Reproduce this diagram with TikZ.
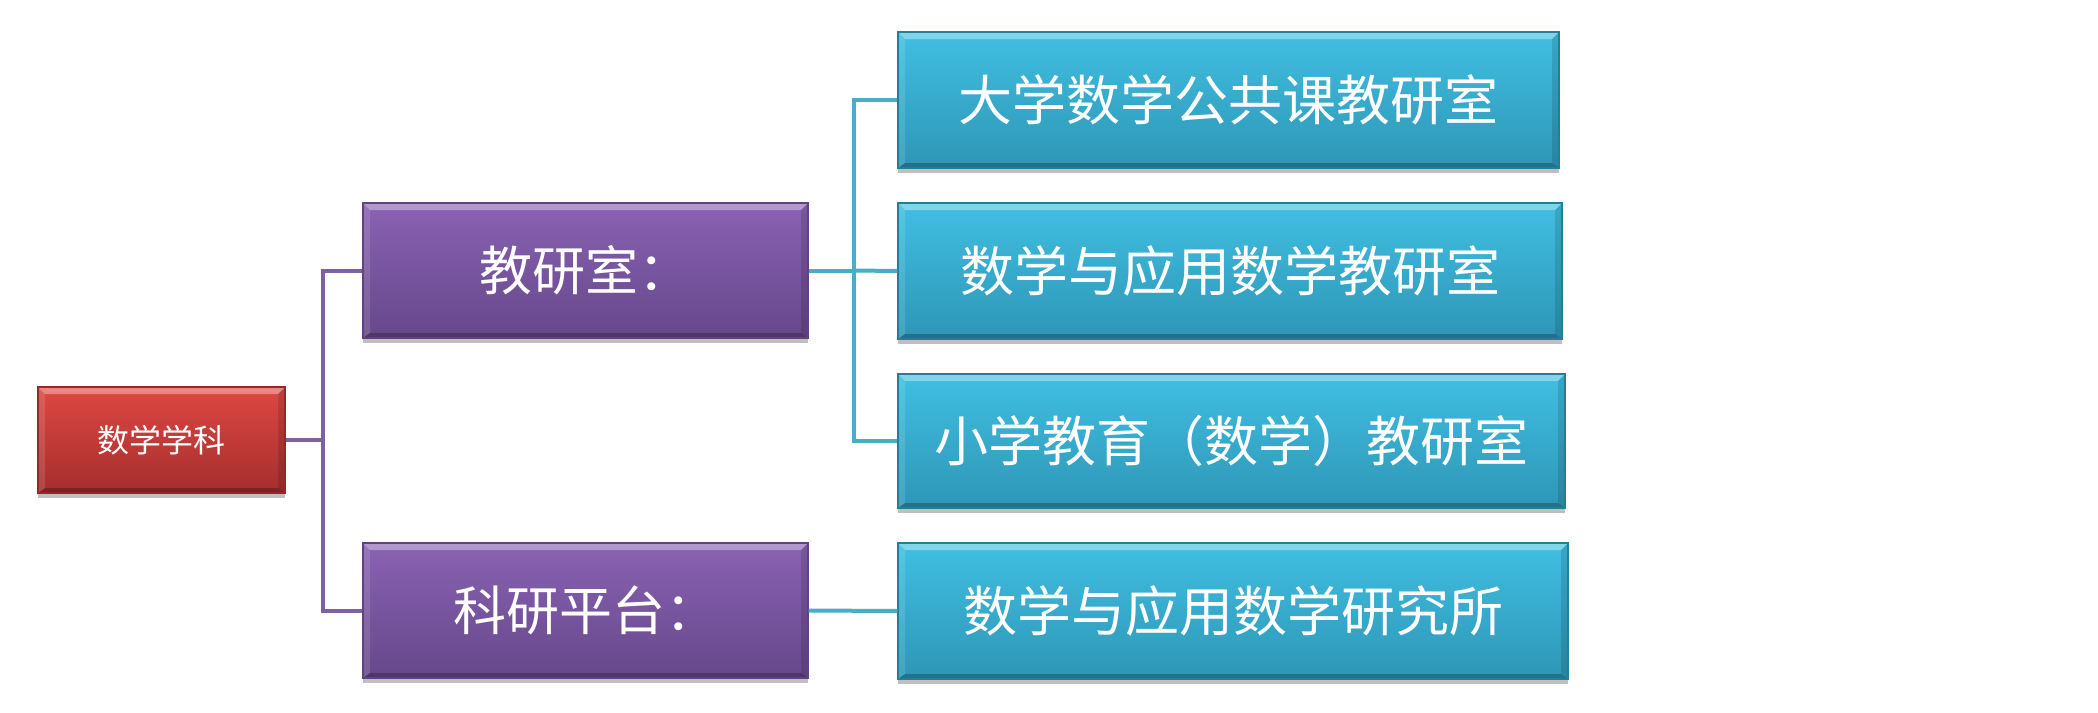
\documentclass[tikz,border=0pt]{standalone}
\usepackage{fontspec}
\newfontfamily\cjk{Noto Sans CJK SC}
\usetikzlibrary{shadows}
\definecolor{redtop}{RGB}{222,72,66}
\definecolor{redbot}{RGB}{164,46,46}
\definecolor{redline}{RGB}{150,40,40}
\definecolor{purtop}{RGB}{138,98,180}
\definecolor{purbot}{RGB}{102,72,138}
\definecolor{purline}{RGB}{96,66,130}
\definecolor{teatop}{RGB}{64,191,226}
\definecolor{teabot}{RGB}{46,150,182}
\definecolor{tealine}{RGB}{38,125,150}
\definecolor{purconn}{RGB}{128,96,164}
\definecolor{teaconn}{RGB}{75,172,198}
\tikzset{
  bevel/.style={path picture={
    \fill[white,opacity=0.35] (path picture bounding box.north west) -- (path picture bounding box.north east)
      -- ([xshift=-7pt,yshift=-7pt]path picture bounding box.north east) -- ([xshift=7pt,yshift=-7pt]path picture bounding box.north west) -- cycle;
    \fill[black,opacity=0.25] (path picture bounding box.south west) -- (path picture bounding box.south east)
      -- ([xshift=-7pt,yshift=5pt]path picture bounding box.south east) -- ([xshift=7pt,yshift=5pt]path picture bounding box.south west) -- cycle;
    \fill[white,opacity=0.12] (path picture bounding box.north west) -- ([xshift=7pt,yshift=-7pt]path picture bounding box.north west)
      -- ([xshift=7pt,yshift=5pt]path picture bounding box.south west) -- (path picture bounding box.south west) -- cycle;
    \fill[black,opacity=0.12] (path picture bounding box.north east) -- ([xshift=-7pt,yshift=-7pt]path picture bounding box.north east)
      -- ([xshift=-7pt,yshift=5pt]path picture bounding box.south east) -- (path picture bounding box.south east) -- cycle;
  }},
  boxbase/.style={rectangle, inner sep=0pt, align=center, text=white, bevel,
    drop shadow={shadow xshift=0pt, shadow yshift=-5pt, opacity=0.25, fill=black}},
  rootbox/.style={boxbase, top color=redtop, bottom color=redbot, draw=redline, line width=1.2pt,
    minimum width=247pt, minimum height=106pt, font=\cjk\fontsize{32}{36}\selectfont},
  midbox/.style={boxbase, top color=purtop, bottom color=purbot, draw=purline, line width=1.2pt,
    minimum width=445pt, minimum height=135pt, font=\cjk\fontsize{53}{60}\selectfont},
  leafbox/.style={boxbase, top color=teatop, bottom color=teabot, draw=tealine, line width=1.2pt,
    minimum height=136pt, font=\cjk\fontsize{54}{60}\selectfont},
  pconn/.style={draw=purconn, line width=4pt},
  tconn/.style={draw=teaconn, line width=4pt}
}
\begin{document}
\begin{tikzpicture}[x=1pt,y=-1pt]
\useasboundingbox (0,0) rectangle (2098,712);
\node[rootbox] (root) at (161.5,440) {数学学科};
\node[midbox] (p1) at (585.5,270.5) {教研室：};
\node[midbox] (p2) at (585.5,610.5) {科研平台：};
\node[leafbox, minimum width=661pt] (t1) at (1228.5,100) {大学数学公共课教研室};
\node[leafbox, minimum width=664pt] (t2) at (1230,271) {数学与应用数学教研室};
\node[leafbox, minimum width=667pt, minimum height=134pt] (t3) at (1231.5,441) {小学教育（数学）教研室};
\node[leafbox, minimum width=670pt] (t4) at (1233,611) {数学与应用数学研究所};
\coordinate (pj) at (323,440);
\coordinate (tj) at (854,270.5);
\draw[pconn] (root.east) -- (pj) |- (p1.west);
\draw[pconn] (pj) |- (p2.west);
\draw[tconn] (p1.east) -- (tj) |- (t1.west);
\draw[tconn] (tj) -- (t2.west);
\draw[tconn] (tj) |- (t3.west);
\draw[tconn] (p2.east) -- (t4.west);
\end{tikzpicture}
\end{document}
